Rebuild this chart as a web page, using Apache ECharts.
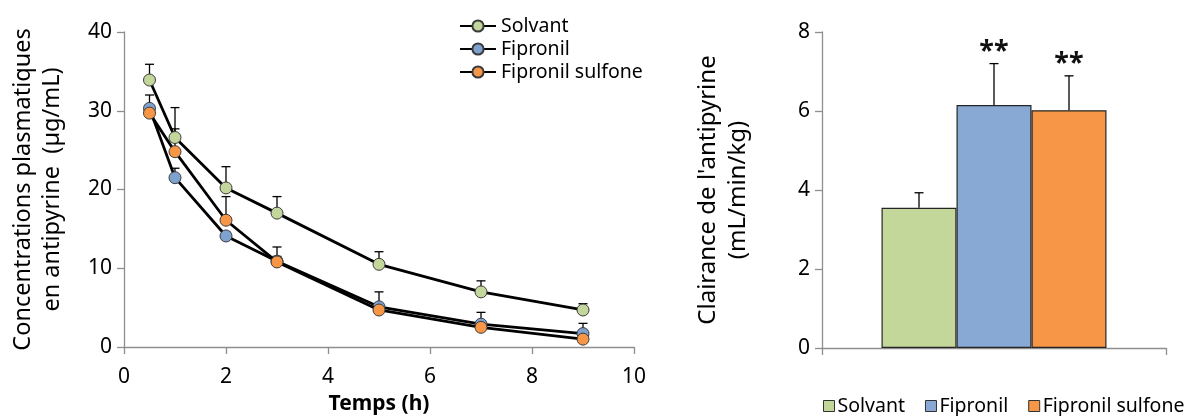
<!DOCTYPE html>
<html>
<head>
<meta charset="utf-8">
<script src="https://cdn.jsdelivr.net/npm/echarts@6/dist/echarts.min.js"></script>
<style>
  html, body { margin: 0; padding: 0; background: #fff; }
  #chart { width: 1201px; height: 416px; }
</style>
</head>
<body>
<div id="chart"></div>
<script>
// Plasma antipyrine concentrations over time (mean + SD)
const times = [0.5, 1, 2, 3, 5, 7, 9];
const seriesNames = ['Solvant', 'Fipronil', 'Fipronil sulfone'];
const solvant = [33.9, 26.6, 20.2, 17.0, 10.5, 7.0, 4.7];
const solvantSd = [2.0, 3.8, 2.7, 2.1, 1.6, 1.4, 0.8];
const fipronil = [30.3, 21.5, 14.1, 10.9, 5.1, 2.9, 1.7];
const fipronilSd = [1.7, 1.2, 0.5, 0.6, 1.9, 1.5, 1.3];
const sulfone = [29.7, 24.8, 16.1, 10.8, 4.7, 2.5, 1.0];
const sulfoneSd = [0.4, 2.9, 3.0, 1.9, 0.5, 0.5, 0.4];

// Antipyrine clearance (mean + SD) with significance marks
const clearance = [3.55, 6.15, 6.02];
const clearanceSd = [0.38, 1.05, 0.87];
const signif = ['', '**', '**'];

const xTicks = [0, 10, 2];      // min, max, step (h)
const yTicksConc = [0, 40, 10]; // µg/mL
const yTicksClr = [0, 8, 2];    // mL/min/kg

const markerColors = ['#C3D69B', '#7EA2D0', '#F79646'];
const barColors = ['#C4D79B', '#88A9D3', '#F79646'];
const FONT = 'Noto Sans';
const axisGrey = '#8E8E8E';

const lineValues = [solvant, fipronil, sulfone];
const lineSds = [solvantSd, fipronilSd, sulfoneSd];

const chart = echarts.init(document.getElementById('chart'), null, { renderer: 'canvas' });

const series = [];

// upward whiskers for the time-course curves
lineValues.forEach(function (vals, s) {
  series.push({
    type: 'custom',
    xAxisIndex: 0, yAxisIndex: 0,
    z: 1,
    silent: true,
    data: times.map(function (t, i) { return [t, vals[i], vals[i] + lineSds[s][i]]; }),
    renderItem: function (params, api) {
      const p0 = api.coord([api.value(0), api.value(1)]);
      const p1 = api.coord([api.value(0), api.value(2)]);
      const cap = 4.5;
      return {
        type: 'group',
        children: [
          { type: 'line', shape: { x1: p0[0], y1: p0[1], x2: p1[0], y2: p1[1] }, style: { stroke: '#000', lineWidth: 1.3 } },
          { type: 'line', shape: { x1: p1[0] - cap, y1: p1[1], x2: p1[0] + cap, y2: p1[1] }, style: { stroke: '#000', lineWidth: 1.3 } }
        ]
      };
    }
  });
});

// the curves themselves
lineValues.forEach(function (vals, s) {
  series.push({
    name: seriesNames[s],
    type: 'line',
    xAxisIndex: 0, yAxisIndex: 0,
    z: 3 + s,
    data: times.map(function (t, i) { return [t, vals[i]]; }),
    symbol: 'circle',
    symbolSize: 12,
    lineStyle: { color: '#000', width: 2.8 },
    itemStyle: { color: markerColors[s], borderColor: '#3A3A3A', borderWidth: 1 },
    emphasis: { disabled: true },
    animation: false
  });
});

// clearance bars
const BAR_W = 75;
clearance.forEach(function (v, s) {
  series.push({
    name: seriesNames[s],
    type: 'bar',
    xAxisIndex: 1, yAxisIndex: 1,
    barWidth: BAR_W,
    barGap: '0%',
    data: [v],
    itemStyle: { color: barColors[s], borderColor: '#262626', borderWidth: 1.2 },
    emphasis: { disabled: true },
    animation: false
  });
});

// whiskers and significance stars above the bars
series.push({
  type: 'custom',
  xAxisIndex: 1, yAxisIndex: 1,
  z: 5,
  silent: true,
  data: clearance.map(function (v, i) { return [0, v, v + clearanceSd[i], i]; }),
  renderItem: function (params, api) {
    const i = api.value(3);
    const off = (i - 1) * BAR_W;
    const p0 = api.coord([api.value(0), api.value(1)]);
    const p1 = api.coord([api.value(0), api.value(2)]);
    const x = p0[0] + off;
    const cap = 4.5;
    const children = [
      { type: 'line', shape: { x1: x, y1: p0[1], x2: x, y2: p1[1] }, style: { stroke: '#000', lineWidth: 1.3 } },
      { type: 'line', shape: { x1: x - cap, y1: p1[1], x2: x + cap, y2: p1[1] }, style: { stroke: '#000', lineWidth: 1.3 } }
    ];
    if (signif[i]) {
      children.push({
        type: 'text',
        style: {
          x: x, y: p1[1] + 2,
          text: signif[i],
          fill: '#111',
          font: 'bold 27px ' + FONT,
          align: 'center', verticalAlign: 'bottom'
        }
      });
    }
    return { type: 'group', children: children };
  }
});

const tickLabel = { color: '#000', fontFamily: FONT, fontSize: 21 };

chart.setOption({
  animation: false,
  textStyle: { fontFamily: FONT },
  grid: [
    { left: 124, right: 567, top: 32, bottom: 69, outerBoundsMode: 'none', containLabel: false },
    { left: 822, right: 35, top: 32, bottom: 68, outerBoundsMode: 'none', containLabel: false }
  ],
  legend: [
    {
      left: 454, top: 11,
      orient: 'vertical',
      itemGap: 3,
      itemWidth: 36, itemHeight: 14,
      selectedMode: false,
      textStyle: { color: '#000', fontFamily: FONT, fontSize: 19.5, lineHeight: 20 },
      data: seriesNames.map(function (n) { return { name: n }; })
    },
    {
      left: 818, top: 391,
      orient: 'horizontal',
      itemGap: 20,
      itemWidth: 11, itemHeight: 11,
      selectedMode: false,
      textStyle: { color: '#000', fontFamily: FONT, fontSize: 19.5, lineHeight: 20, padding: [0, 0, 0, -2] },
      data: seriesNames.map(function (n, i) {
        return { name: n, icon: 'rect', itemStyle: { color: barColors[i], borderColor: '#333', borderWidth: 1 } };
      })
    }
  ],
  xAxis: [
    {
      type: 'value', gridIndex: 0,
      min: xTicks[0], max: xTicks[1], interval: xTicks[2],
      name: 'Temps (h)', nameLocation: 'middle', nameGap: 47,
      nameTextStyle: { color: '#000', fontFamily: FONT, fontSize: 21, fontWeight: 'bold' },
      axisLine: { lineStyle: { color: axisGrey, width: 1.3 } },
      axisTick: { length: 7, lineStyle: { color: axisGrey, width: 1.3 } },
      axisLabel: Object.assign({ margin: 20 }, tickLabel),
      splitLine: { show: false }
    },
    {
      type: 'category', gridIndex: 1,
      data: [''],
      axisLine: { lineStyle: { color: axisGrey, width: 1.3 } },
      axisTick: { show: true, length: 7, lineStyle: { color: axisGrey, width: 1.3 } },
      axisLabel: { show: false }
    }
  ],
  yAxis: [
    {
      type: 'value', gridIndex: 0,
      min: yTicksConc[0], max: yTicksConc[1], interval: yTicksConc[2],
      name: 'Concentrations plasmatiques\nen antipyrine  (µg/mL)',
      nameLocation: 'middle', nameRotate: 90, nameGap: 57,
      nameTextStyle: { color: '#000', fontFamily: FONT, fontSize: 23.5, lineHeight: 29 },
      axisLine: { show: true, lineStyle: { color: axisGrey, width: 1.3 } },
      axisTick: { show: true, length: 7, lineStyle: { color: axisGrey, width: 1.3 } },
      axisLabel: Object.assign({ margin: 12 }, tickLabel),
      splitLine: { show: false }
    },
    {
      type: 'value', gridIndex: 1,
      min: yTicksClr[0], max: yTicksClr[1], interval: yTicksClr[2],
      name: "Clairance de l'antipyrine\n(mL/min/kg)",
      nameLocation: 'middle', nameRotate: 90, nameGap: 69,
      nameTextStyle: { color: '#000', fontFamily: FONT, fontSize: 24, lineHeight: 30 },
      axisLine: { show: true, lineStyle: { color: axisGrey, width: 1.3 } },
      axisTick: { show: true, length: 7, lineStyle: { color: axisGrey, width: 1.3 } },
      axisLabel: Object.assign({ margin: 12 }, tickLabel),
      splitLine: { show: false }
    }
  ],
  series: series
});
</script>
</body>
</html>
